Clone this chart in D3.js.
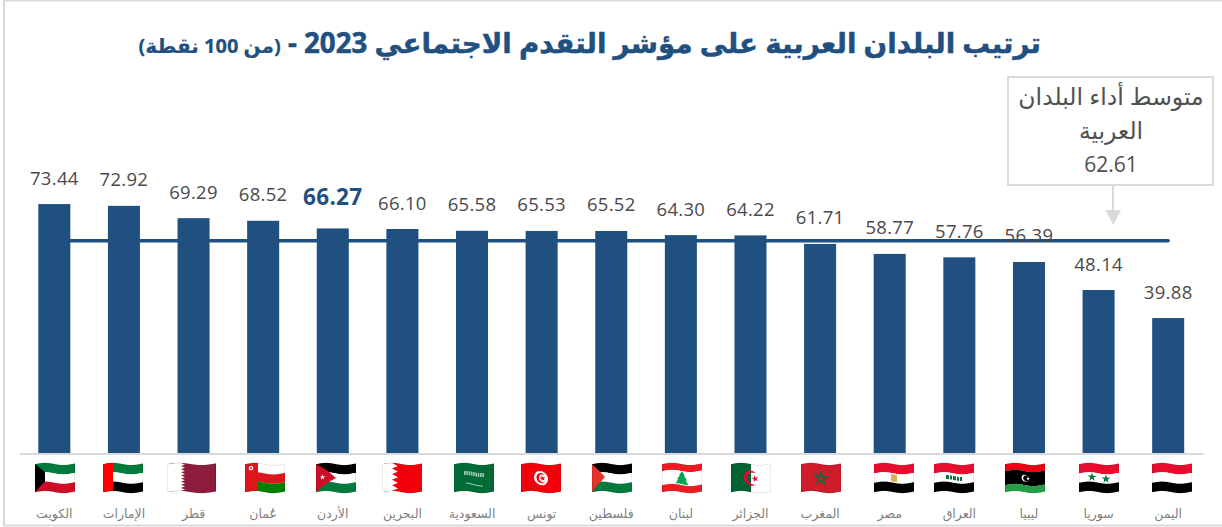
<!DOCTYPE html>
<html><head><meta charset="utf-8">
<script src="https://cdn.jsdelivr.net/npm/d3@7"></script>
<style>
html,body{margin:0;padding:0;background:#fff}
svg{display:block}
text{font-family:"Open Sans","DejaVu Sans",sans-serif}
</style></head><body>
<svg id="chart" width="1222" height="527"></svg>
<script>
const COUNTRIES = ['الكويت','الإمارات','قطر','عُمان','الأردن','البحرين','السعودية','تونس','فلسطين','لبنان','الجزائر','المغرب','مصر','العراق','ليبيا','سوريا','اليمن']
const VALUES = ['73.44','72.92','69.29','68.52','66.27','66.10','65.58','65.53','65.52','64.30','64.22','61.71','58.77','57.76','56.39','48.14','39.88']
const AVERAGE = 62.61
const HIGHLIGHT = 'الأردن'
const TITLE = 'ترتيب البلدان العربية على مؤشر التقدم الاجتماعي 2023 - '
const SUBTITLE = '(من 100 نقطة)'
const AVG_LABEL = ['متوسط أداء البلدان', 'العربية', '62.61']

const BLUE = '#1f507f'
const GREY = '#d9d9d9'
const INK = '#4a4a4a'

const RED = '#e8112d', GREEN = '#007a3d', BLACK = '#000', WHITE = '#fff'
const FLAG_W = 40, FLAG_H = 28

// the flag pictures don't sit exactly on the bars in the original
const FLAG_NUDGE = [1, -1, -2, 2, 3, 0, 2, -1, 1, 1, 1, 1, 4, -5, -4, 0, 4]

const svg = d3.select('#chart')
const x = d3.scaleBand().domain(COUNTRIES).range([19.5, 1203]).paddingInner(0.54).paddingOuter(0.27)
const y = d3.scaleLinear().domain([0, 80]).range([453.5, 181.8])
const mid = d => x(d) + x.bandwidth() / 2

// frame is open on the right
svg.append('path').attr('d', 'M1222,0.5H4V525.5H1222').attr('fill', 'none').attr('stroke', GREY).attr('stroke-width', 2)

const title = svg.append('text').attr('x', 1041).attr('y', 53).attr('direction', 'rtl')
  .attr('fill', BLUE).attr('stroke', BLUE).attr('stroke-width', 0.5).attr('font-weight', 700).attr('font-size', 27.7)
title.append('tspan').text(TITLE)
title.append('tspan').attr('font-size', 20).attr('stroke-width', 0.2).text(SUBTITLE)

svg.append('g').selectAll('rect').data(COUNTRIES).join('rect')
  .attr('x', d => x(d)).attr('width', x.bandwidth())
  .attr('y', (d, i) => y(+VALUES[i])).attr('height', (d, i) => y(0) - y(+VALUES[i]))
  .attr('fill', BLUE)

svg.append('line').attr('x1', mid(COUNTRIES[0])).attr('x2', mid(COUNTRIES[16]))
  .attr('y1', y(AVERAGE)).attr('y2', y(AVERAGE)).attr('stroke', BLUE).attr('stroke-width', 3.5).attr('stroke-linecap', 'round')

const axis = d3.axisBottom(x).tickSize(0).tickPadding(56)
svg.append('g').attr('transform', `translate(0,${y(0)})`).call(axis)
  .call(g => g.select('.domain').attr('stroke', GREY).attr('stroke-width', 2))
  .call(g => g.selectAll('text').attr('fill', '#7f7f7f').attr('font-size', 12.5).attr('font-family', '"Open Sans","DejaVu Sans",sans-serif'))

svg.append('g').selectAll('text').data(COUNTRIES).join('text')
  .attr('x', mid)
  .attr('y', (d, i) => y(+VALUES[i]) - (d === HIGHLIGHT ? 23 : 19.5))
  .attr('text-anchor', 'middle')
  .attr('fill', d => d === HIGHLIGHT ? BLUE : INK)
  .attr('font-weight', d => d === HIGHLIGHT ? 700 : 400)
  .attr('font-size', d => d === HIGHLIGHT ? 22.5 : 18.5)
  .attr('letter-spacing', 0.3)
  .text((d, i) => VALUES[i])

// average callout
svg.append('rect').attr('x', 1008).attr('y', 77).attr('width', 205).attr('height', 108)
  .attr('fill', '#fff').attr('stroke', GREY).attr('stroke-width', 2)
svg.append('g').selectAll('text').data(AVG_LABEL).join('text')
  .attr('x', 1111).attr('y', (d, i) => 105 + i * 33.5).attr('text-anchor', 'middle')
  .attr('fill', '#505050').attr('font-size', (d, i) => i === 2 ? 21 : 23.5).text(d => d)
svg.append('line').attr('x1', 1113).attr('x2', 1113).attr('y1', 185).attr('y2', 212).attr('stroke', GREY).attr('stroke-width', 2)
svg.append('path').attr('d', 'M1105.5,210H1121L1113.2,225Z').attr('fill', GREY)

// flags, drawn flat in defs and then cut into slices for the wave
function stripes(g, colors, x0 = 0, w = FLAG_W, shares) {
  const parts = shares || colors.map(() => 1)
  const total = d3.sum(parts)
  let top = 0
  colors.forEach((c, i) => {
    const h = FLAG_H * parts[i] / total
    g.append('rect').attr('x', x0).attr('y', top).attr('width', w).attr('height', h).attr('fill', c)
    top += h
  })
}
function poly(g, d, fill) { g.append('path').attr('d', d).attr('fill', fill) }
function star(g, cx, cy, size, fill, rot = 0) {
  g.append('path').attr('d', d3.symbol(d3.symbolStar, size)())
    .attr('transform', `translate(${cx},${cy}) rotate(${rot})`).attr('fill', fill)
}
function circle(g, cx, cy, r, fill) { g.append('circle').attr('cx', cx).attr('cy', cy).attr('r', r).attr('fill', fill) }
function zigzag(x0, x1, n) {
  const h = FLAG_H / n
  let d = `M0,0H${x0}`
  for (let i = 0; i < n; i++) d += `L${x1},${h * (i + 0.5)}L${x0},${h * (i + 1)}`
  return d + 'H0Z'
}

const H = FLAG_H
const FLAGS = [
  g => { stripes(g, [GREEN, WHITE, '#ce1126']); poly(g, `M0,0L10,${H / 3}V${2 * H / 3}L0,${H}Z`, BLACK) },
  g => { stripes(g, [GREEN, WHITE, BLACK]); g.append('rect').attr('width', 10).attr('height', H).attr('fill', '#ff0000') },
  g => { g.append('rect').attr('width', 49).attr('height', H).attr('fill', '#8d1b3d'); poly(g, zigzag(14, 18, 9), WHITE) },
  g => {
    stripes(g, [WHITE, '#db161b', '#008000'])
    g.append('rect').attr('width', 13).attr('height', H).attr('fill', '#db161b')
    circle(g, 6, 5, 2.2, WHITE); circle(g, 6, 5, 1, '#db161b')
  },
  g => {
    stripes(g, [BLACK, WHITE, GREEN])
    poly(g, `M0,0L20,${H / 2}L0,${H}Z`, '#ce1126'); star(g, 6.5, H / 2, 9, WHITE)
  },
  g => { g.append('rect').attr('width', FLAG_W).attr('height', H).attr('fill', '#f4000f'); poly(g, zigzag(10, 16, 5), WHITE) },
  g => {
    g.append('rect').attr('width', FLAG_W).attr('height', H).attr('fill', '#006c35')
    g.append('line').attr('x1', 10).attr('x2', 30).attr('y1', 10).attr('y2', 10)
      .attr('stroke', '#a9cdb8').attr('stroke-width', 4).attr('stroke-dasharray', '1.5 0.8')
    g.append('line').attr('x1', 12).attr('x2', 29).attr('y1', 20).attr('y2', 21).attr('stroke', '#cfe3d6').attr('stroke-width', 0.8)
  },
  g => {
    g.append('rect').attr('width', FLAG_W).attr('height', H).attr('fill', '#f4000f')
    circle(g, 20, H / 2, 7, WHITE); circle(g, 20.5, H / 2, 5, '#f4000f'); circle(g, 22, H / 2, 4, WHITE)
    star(g, 21.5, H / 2, 11, '#f4000f', -90)
  },
  g => { stripes(g, [BLACK, WHITE, GREEN]); poly(g, `M0,0L13,${H / 2}L0,${H}Z`, '#e4312b') },
  g => {
    stripes(g, ['#ed1c24', WHITE, '#ed1c24'], 0, FLAG_W, [1, 2, 1])
    poly(g, 'M20,7L23,11.5L22,11.5L25,15.5L23.5,15.5L26.5,20H13.5L16.5,15.5H15L18,11.5H17Z', '#00a651')
  },
  g => {
    g.append('rect').attr('width', FLAG_W).attr('height', H).attr('fill', WHITE)
    g.append('rect').attr('width', 20).attr('height', H).attr('fill', '#006233')
    g.append('path').attr('transform', `translate(0,${H / 2 - 13.5})`)
      .attr('d', 'M25.3,8.19A7.5,7.5,0,1,0,25.3,18.81A6,6,0,1,1,25.3,8.19Z').attr('fill', '#d21034')
    star(g, 24, H / 2, 14, '#d21034', -90)
  },
  g => {
    g.append('rect').attr('width', FLAG_W).attr('height', H).attr('fill', '#cf1b2b')
    const pts = d3.range(6).map(i => { const a = -Math.PI / 2 + i * 4 * Math.PI / 5; return [20 + 7 * Math.cos(a), H / 2 + 7 * Math.sin(a)] })
    g.append('path').attr('d', d3.line()(pts)).attr('fill', 'none').attr('stroke', '#0f6b3a').attr('stroke-width', 1.2)
  },
  g => { stripes(g, ['#e8112d', WHITE, BLACK]); g.append('rect').attr('x', 17).attr('y', 10.5).attr('width', 6).attr('height', 7).attr('fill', '#d8b04a') },
  g => {
    stripes(g, ['#e8112d', WHITE, BLACK])
    g.append('line').attr('x1', 12).attr('x2', 28).attr('y1', H / 2).attr('y2', H / 2)
      .attr('stroke', GREEN).attr('stroke-width', 4).attr('stroke-dasharray', '3 1 2 1')
  },
  g => {
    stripes(g, ['#e70013', BLACK, '#239e46'], 0, FLAG_W, [1, 2, 1])
    circle(g, 20, H / 2, 3.4, WHITE); circle(g, 21, H / 2, 2.8, BLACK); star(g, 23, H / 2, 4, WHITE)
  },
  g => { stripes(g, ['#e8112d', WHITE, BLACK]); star(g, 13, H / 2, 24, '#007a3d'); star(g, 27, H / 2, 24, '#007a3d') },
  g => stripes(g, ['#e8112d', WHITE, BLACK]),
]

const defs = svg.append('defs')
const blur = defs.append('filter').attr('id', 'soft').attr('x', '-5%').attr('y', '-5%').attr('width', '110%').attr('height', '110%')
blur.append('feGaussianBlur').attr('stdDeviation', 0.35)

const SLICE = 2
d3.range(0, 50, SLICE).forEach(s => {
  defs.append('clipPath').attr('id', `slice-${s}`)
    .append('rect').attr('x', s).attr('y', -3).attr('width', SLICE).attr('height', FLAG_H + 6)
})

const flagLayer = svg.append('g')
COUNTRIES.forEach((c, i) => {
  const w = i === 2 ? 49 : FLAG_W
  const art = defs.append('g').attr('id', `flag-${i}`)
  FLAGS[i](art)
  art.append('rect').attr('x', 0.25).attr('y', 0.25).attr('width', w - 0.5).attr('height', FLAG_H - 0.5)
    .attr('fill', 'none').attr('stroke', '#000').attr('stroke-opacity', 0.13).attr('stroke-width', 0.7)
  const g = flagLayer.append('g').attr('filter', 'url(#soft)')
    .attr('transform', `translate(${Math.round(mid(c) + FLAG_NUDGE[i] - w / 2)},464)`)
  g.selectAll('use').data(d3.range(0, w, SLICE)).join('use')
    .attr('href', `#flag-${i}`)
    .attr('clip-path', s => `url(#slice-${s})`)
    .attr('transform', s => `translate(0,${-1.1 * Math.sin(2 * Math.PI * 1.1 * s / w)})`)
})
</script>
</body></html>
